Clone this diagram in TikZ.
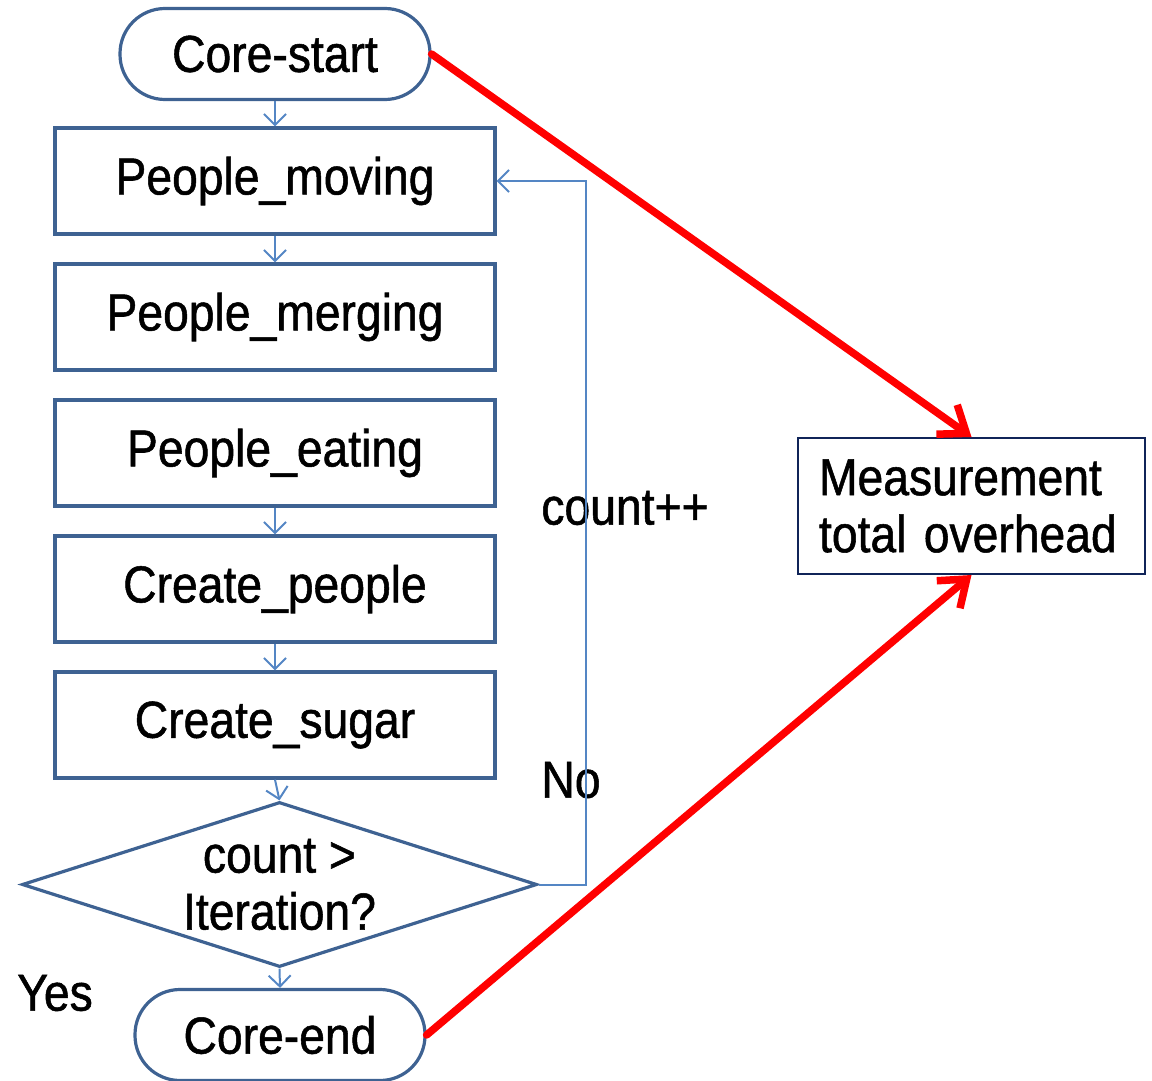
\documentclass[tikz,border=0pt]{standalone}
\usepackage{fontspec}
\setmainfont{Liberation Sans}[FakeStretch=0.89,FakeBold=1]
\usetikzlibrary{shapes.geometric,arrows.meta}
\definecolor{boxblue}{RGB}{62,98,146}
\definecolor{lineblue}{RGB}{84,134,196}
\definecolor{navy}{RGB}{16,36,88}
\begin{document}
\begin{tikzpicture}[x=1pt,y=-1pt,font=\fontsize{52}{57}\selectfont,
blk/.style={draw=boxblue,line width=3.2pt,minimum width=440pt,minimum height=106pt,inner sep=0pt},
term/.style={draw=boxblue,line width=3.2pt,rounded corners=45pt,inner sep=0pt,minimum height=91pt},
flow/.style={draw=lineblue,line width=2pt,-{Straight Barb[length=11pt,width=22pt]}},
meas/.style={draw=red,line width=7.5pt,line cap=round,-{Straight Barb[length=24pt,width=36pt]}}]
\useasboundingbox (0,0) rectangle (1152,1081);
\draw(275,54)node[term,minimum width=310pt](cs){Core-start}
 (275,181)node[blk](mv){People\_moving}
 (275,317)node[blk](mg){People\_merging}
 (275,453)node[blk](et){People\_eating}
 (275,589)node[blk](cp){Create\_people}
 (275,725)node[blk](su){Create\_sugar}
 (279.5,884.5)node[diamond,draw=boxblue,line width=3.2pt,minimum width=515pt,minimum height=165pt,inner sep=0pt,
   label={[align=center]center:count >\\Iteration?}](it){}
 (280,1035)node[term,minimum width=290pt](ce){Core-end}
 (971.5,506)node[draw=navy,line width=2pt,minimum height=136pt,text width=305pt,inner xsep=21pt,align=left](ms){Measurement\\total overhead};
\draw(625,508)node[](lc){count++} (571,780)node[](ln){No} (55,993)node[](ly){Yes};
\draw[flow](cs) -- (mv);
\draw[flow](mv) -- (mg);
\draw[flow](et) -- (cp);
\draw[flow](cp) -- (su);
\draw[flow](su.south) -- (it.north);
\draw[flow](it.south) -- (ce.north);
\draw[flow](it.east) -- ++(47,0) |- (mv.east);
\draw[meas](cs.east) -- (ms.north);
\draw[meas](ce.east) -- (ms.south);
\end{tikzpicture}
\end{document}
